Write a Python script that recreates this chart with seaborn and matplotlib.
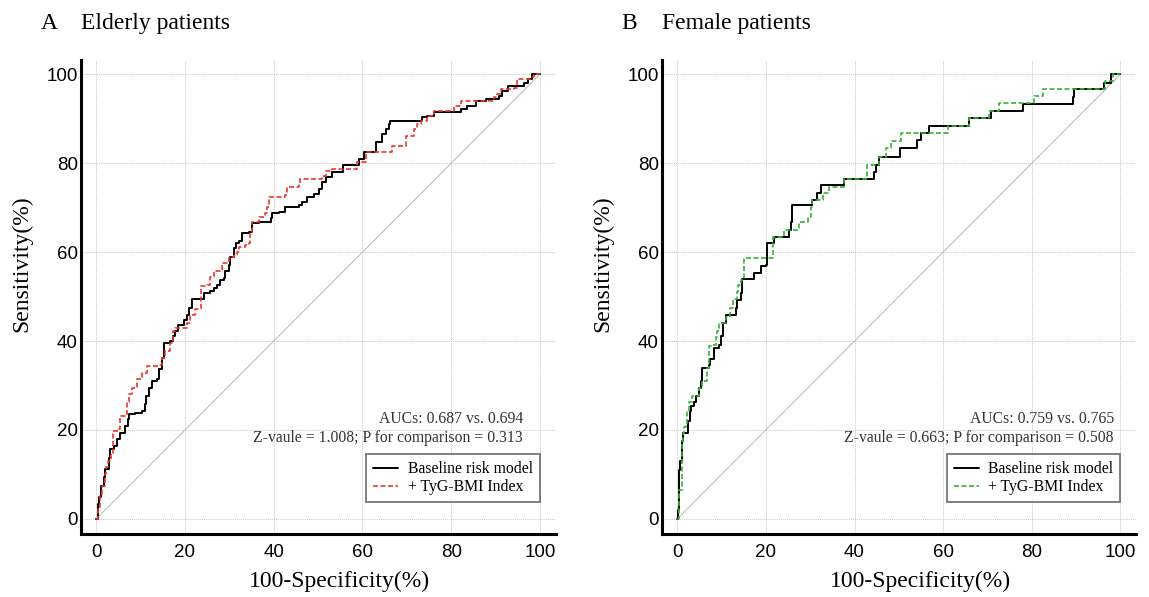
import numpy as np
import pandas as pd
import seaborn as sns
import matplotlib.pyplot as plt
from matplotlib.ticker import MultipleLocator

# ROC curves (100-Specificity %, Sensitivity %), step corners
eld_base_x = [0, 0.4, 0.7, 1.1, 1.7, 1.9, 2.8, 3.2, 4.1, 4.7, 5.4, 6.4, 7.1, 7.3, 8.8, 10.3, 10.9, 11.3,
              11.8, 12.6, 13.7, 14.2, 14.8, 15.2, 16.7, 17.2, 17.7, 18.5, 19.7, 20.5, 20.8, 21.6, 24.2,
              25.7, 26.5, 27.2, 28.0, 28.7, 29.1, 29.9, 30.2, 31.0, 31.4, 32.1, 32.9, 34.4, 35.1, 36.6,
              39.3, 39.6, 41.1, 42.6, 45.6, 46.4, 47.5, 49.0, 50.2, 50.9, 51.7, 53.2, 55.5, 59.2, 60.3,
              63.0, 64.5, 65.2, 66.0, 66.3, 73.5, 74.6, 76.1, 82.1, 83.6, 85.5, 87.8, 90.8, 91.5, 92.7,
              96.4, 97.2, 98.3, 100]
eld_base_y = [0, 3.4, 4.9, 7.5, 9.4, 11.2, 13.8, 15.7, 16.5, 18.0, 19.4, 20.9, 22.4, 23.5, 23.9, 24.3, 25.8, 27.6,
              29.5, 31.0, 31.4, 33.6, 36.2, 39.6, 40.0, 41.1, 42.2, 43.5, 44.8, 45.9, 47.4, 49.5, 50.8,
              51.2, 52.0, 52.7, 53.8, 54.2, 55.7, 57.1, 59.0, 60.9, 62.0, 62.4, 64.2, 64.6, 66.5, 66.8,
              67.6, 68.7, 69.1, 70.2, 70.6, 71.3, 72.3, 73.1, 74.2, 75.7, 76.9, 78.0, 79.5, 81.0, 82.5,
              84.7, 86.6, 87.7, 88.8, 89.4, 90.3, 90.7, 91.4, 92.2, 92.9, 94.0, 94.4, 95.1, 96.3, 97.4,
              98.1, 98.9, 100, 100]

eld_tyg_x = [0, 0.4, 0.9, 1.3, 1.9, 2.2, 2.6, 3.4, 3.7, 5.0, 5.4, 6.5, 6.9, 7.3, 8.0, 9.2, 10.3, 11.4, 14.1,
             14.8, 15.6, 16.7, 17.4, 17.8, 20.5, 21.2, 22.3, 23.5, 25.0, 25.7, 26.5, 28.0, 28.4, 29.9,
             31.0, 31.7, 32.1, 33.6, 34.4, 34.7, 35.1, 36.6, 38.1, 38.5, 38.9, 42.6, 43.0, 45.6, 46.0,
             50.9, 51.7, 53.2, 58.8, 60.7, 66.7, 69.7, 71.6, 72.4, 73.1, 74.6, 76.1, 80.6, 82.1, 89.7,
             90.4, 91.2, 94.2, 94.9, 97.9, 98.7, 100]
eld_tyg_y = [0, 2.7, 5.6, 7.5, 10.1, 11.6, 13.1, 14.6, 19.8, 20.2, 23.2, 23.5, 26.2, 28.0, 29.5, 31.4, 32.9, 34.4, 34.7,
             36.2, 37.7, 39.6, 42.2, 43.0, 44.1, 45.9, 47.1, 52.3, 52.7, 54.5, 55.7, 56.0, 57.5, 59.0,
             59.4, 60.1, 61.2, 61.6, 62.0, 64.2, 66.8, 68.0, 68.7, 70.2, 72.4, 72.8, 74.7, 75.0, 76.5,
             77.2, 78.3, 78.7, 80.2, 82.5, 83.9, 86.2, 87.7, 88.8, 89.5, 90.7, 91.8, 92.9, 94.0, 94.8,
             95.5, 96.6, 97.0, 98.9, 99.3, 100, 100]

fem_base_x = [0, 0.2, 0.4, 0.5, 0.7, 1.0, 1.3, 2.5, 2.8, 3.2, 3.8, 4.3, 4.9, 5.3, 5.5, 7.1, 7.5, 8.3, 9.4,
              9.8, 10.4, 11.0, 13.3, 13.6, 14.3, 14.7, 17.4, 19.0, 20.0, 20.3, 21.8, 25.2, 25.6, 26.0,
              30.5, 31.6, 32.4, 37.7, 44.5, 44.8, 45.6, 50.2, 54.1, 54.9, 56.9, 65.8, 70.8, 78.1, 89.3,
              89.5, 96.2, 97.9, 100]
fem_base_y = [0, 1.9, 7.1, 10.9, 13.1, 17.6, 19.4, 22.0, 24.3, 25.4, 26.2, 27.6, 29.5, 31.0, 34.0, 34.7, 35.9, 38.5, 39.2,
              41.1, 44.0, 45.8, 47.5, 49.2, 50.8, 54.0, 55.3, 56.8, 57.1, 62.0, 63.5, 65.0, 66.8, 70.5,
              71.7, 73.2, 75.0, 76.5, 78.0, 79.5, 81.4, 83.4, 85.3, 86.8, 88.3, 90.2, 91.7, 93.4, 94.8,
              96.6, 98.1, 100, 100]

fem_tyg_x = [0, 0.4, 0.5, 1.0, 1.1, 1.3, 1.5, 1.9, 2.3, 2.6, 3.4, 5.0, 5.6, 6.8, 7.1, 7.9, 8.7, 9.0, 9.5,
             11.0, 12.0, 12.5, 13.5, 13.8, 14.3, 15.1, 21.5, 24.1, 27.5, 29.4, 30.1, 30.5, 32.8, 34.3,
             37.7, 42.8, 45.6, 47.2, 48.3, 50.5, 61.0, 65.8, 70.3, 72.5, 80.4, 82.6, 96.4, 98.3, 100]
fem_tyg_y = [0, 4.1, 6.4, 9.4, 17.6, 19.1, 20.6, 21.3, 24.3, 26.2, 27.7, 29.5, 31.0, 34.0, 38.8, 39.2, 40.8, 42.2, 44.0,
             45.5, 47.5, 49.5, 51.0, 52.5, 53.8, 58.6, 63.5, 65.0, 66.8, 68.0, 70.2, 71.7, 73.2, 74.7,
             76.5, 79.5, 81.4, 83.4, 84.9, 86.8, 88.3, 90.2, 91.7, 93.6, 95.2, 96.6, 98.5, 100, 100]

panels = [
    ("A", "Elderly patients", eld_base_x, eld_base_y, eld_tyg_x, eld_tyg_y, "#e8392c",
     "AUCs: 0.687 vs. 0.694", "Z-vaule = 1.008; P for comparison = 0.313", 96.2),
    ("B", "Female patients", fem_base_x, fem_base_y, fem_tyg_x, fem_tyg_y, "#36b336",
     "AUCs: 0.759 vs. 0.765", "Z-vaule = 0.663; P for comparison = 0.508", 98.5),
]

sns.set_style("white")
plt.rcParams['font.family'] = ['Liberation Serif', 'DejaVu Serif']
plt.rcParams['text.color'] = 'black'
plt.rcParams['axes.labelcolor'] = 'black'
tick_font = ['Liberation Sans', 'DejaVu Sans']

fig = plt.figure(figsize=(11.49, 5.97), dpi=100)
positions = [[80.7 / 1149, 63 / 597, 474.8 / 1149, 474 / 597],
             [661.7 / 1149, 63 / 597, 474.3 / 1149, 474 / 597]]
lefts_letter = [41 / 1149, 621 / 1149]

for i, (letter, title, bx, by, tx, ty, col, txt1, txt2, txt_x) in enumerate(panels):
    ax = fig.add_axes(positions[i])
    ax.plot([0, 100], [0, 100], color='#b8b8b8', lw=0.7, zorder=1)
    df_b = pd.DataFrame({'x': bx, 'y': by})
    df_t = pd.DataFrame({'x': tx, 'y': ty})
    sns.lineplot(data=df_b, x='x', y='y', ax=ax, estimator=None, sort=False, color='black',
                 lw=1.4, drawstyle='steps-post', label='Baseline risk model', zorder=3)
    sns.lineplot(data=df_t, x='x', y='y', ax=ax, estimator=None, sort=False, color=col,
                 lw=1.2, drawstyle='steps-post', linestyle=(0, (3, 1.5)), label='+ TyG-BMI Index', zorder=4)

    ax.set_xlim(-3.5, 103.5)
    ax.set_ylim(-3.4, 103.2)
    ax.xaxis.set_major_locator(MultipleLocator(20))
    ax.yaxis.set_major_locator(MultipleLocator(20))
    ax.xaxis.set_minor_locator(MultipleLocator(5))
    ax.yaxis.set_minor_locator(MultipleLocator(5))
    ax.grid(True, which='major', color='#c8c8c8', lw=0.7, linestyle=(0, (1, 1)))
    for s in ['top', 'right']:
        ax.spines[s].set_visible(False)
    for s in ['left', 'bottom']:
        ax.spines[s].set_linewidth(2.2)
        ax.spines[s].set_color('black')
    ax.tick_params(which='major', direction='in', length=10, width=1.6, colors='black')
    ax.tick_params(which='minor', direction='in', length=5, width=1.0, colors='black')
    ax.tick_params(axis='x', which='major', pad=7)
    ax.tick_params(axis='y', which='major', pad=2)
    for lab in ax.get_xticklabels() + ax.get_yticklabels():
        lab.set_family(tick_font)
        lab.set_fontsize(13.5)

    ax.set_xlabel('100-Specificity(%)', fontsize=17, va='center')
    ax.set_ylabel('Sensitivity(%)', fontsize=17, va='center')
    ax.xaxis.set_label_coords(0.545, -0.1)
    ax.yaxis.set_label_coords(-0.124, 0.57)

    ax.text(txt_x, 22.4, txt1, ha='right', va='center', fontsize=11.3, color='#333333')
    ax.text(txt_x, 18.1, txt2, ha='right', va='center', fontsize=11.3, color='#333333')

    leg = ax.legend(loc='upper right', bbox_to_anchor=(100, 14.6), bbox_transform=ax.transData,
                    borderaxespad=0, frameon=True, fancybox=False, fontsize=11.3,
                    handlelength=1.6, handletextpad=0.6, borderpad=0.45, labelspacing=0.15)
    leg.get_frame().set_edgecolor('#555555')
    leg.get_frame().set_linewidth(1.3)

    fig.text(lefts_letter[i], 1 - 29 / 597, letter, fontsize=17, va='baseline', ha='left')
    fig.text(positions[i][0], 1 - 29 / 597, title, fontsize=17, va='baseline', ha='left')

fig.savefig('out.png', dpi=100)
